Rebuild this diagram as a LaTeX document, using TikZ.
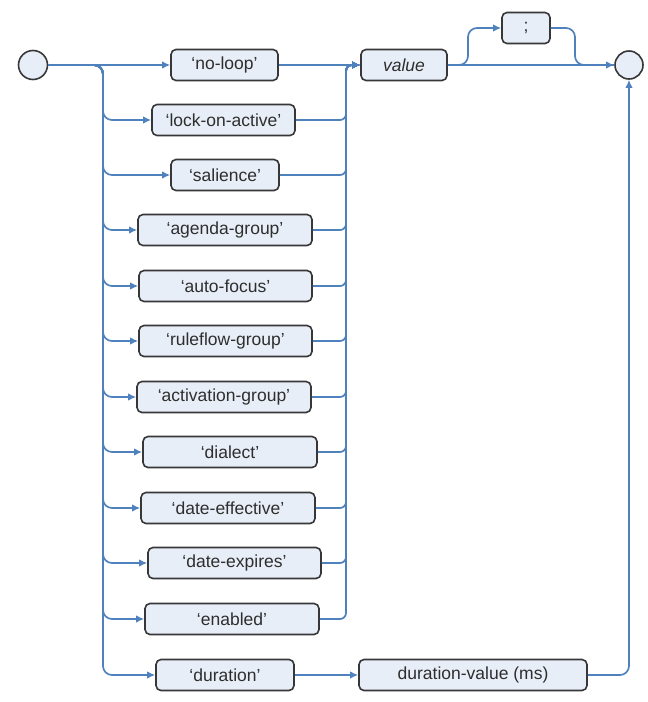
\documentclass[tikz,border=0pt]{standalone}
\usepackage{fontspec}
\setmainfont{Liberation Sans}
\usetikzlibrary{arrows.meta}
\definecolor{railc}{RGB}{79,129,189}
\definecolor{boxfill}{RGB}{232,238,247}
\definecolor{boxline}{RGB}{55,55,55}
\tikzset{
 term/.style={draw=boxline, fill=boxfill, line width=1.6pt, rounded corners=5pt, minimum height=31pt, inner sep=0pt, font=\fontsize{17.5}{20}\selectfont, text=black!82},
 ends/.style={circle, draw=boxline, fill=boxfill, line width=1.6pt, minimum size=29pt, inner sep=0pt},
 railline/.style={draw=railc, line width=1.7pt, rounded corners=9pt},
 railarrow/.style={railline, -{Latex[length=8pt,width=7.5pt]}},
}
\begin{document}
\begin{tikzpicture}[x=1pt,y=-1pt]
\useasboundingbox (0,0) rectangle (648,702);
\node[ends] (start) at (33,65) {};
\node[ends, minimum size=28pt] (end) at (629,65) {};

\node[term, minimum width=107pt] (noloop) at (224.5,65) {‘no-loop’};
\node[term, minimum width=143pt] (lock) at (223.5,120) {‘lock-on-active’};
\node[term, minimum width=108pt] (salience) at (225,175) {‘salience’};
\node[term, minimum width=174pt] (agenda) at (225,230) {‘agenda-group’};
\node[term, minimum width=173pt] (autofocus) at (225.5,286) {‘auto-focus’};
\node[term, minimum width=173pt] (ruleflow) at (225.5,341) {‘ruleflow-group’};
\node[term, minimum width=174pt] (activation) at (224,397) {‘activation-group’};
\node[term, minimum width=174pt] (dialect) at (230,452) {‘dialect’};
\node[term, minimum width=174pt] (dateeff) at (228,508) {‘date-effective’};
\node[term, minimum width=173pt] (dateexp) at (234.5,563) {‘date-expires’};
\node[term, minimum width=174pt] (enabled) at (232,619) {‘enabled’};
\node[term, minimum width=138pt] (duration) at (225,675) {‘duration’};
\node[term, minimum width=228pt] (dv) at (473,675) {duration-value (ms)};
\node[term, minimum width=86pt, font=\fontsize{17.5}{20}\selectfont\itshape] (value) at (404,65) {value};
\node[term, minimum width=48pt] (semi) at (526,28) {;};

\coordinate (lj) at (103,65);
\coordinate (rj) at (346,65);
\coordinate (a1) at (468,65);
\coordinate (a2) at (468,28);
\coordinate (b1) at (575,28);
\coordinate (b2) at (575,65);

\draw[railarrow] (start.east) -- (noloop.west);
\foreach \r in {lock,salience,agenda,autofocus,ruleflow,activation,dialect,dateeff,dateexp,enabled,duration}
  \draw[railarrow] (start.east) -- (lj) -- (lj |- \r.west) -- (\r.west);
\foreach \r in {lock,salience,agenda,autofocus,ruleflow,activation,dialect,dateeff,dateexp,enabled}
  \draw[railarrow, rounded corners=6pt] (\r.east) -- (rj |- \r.east) -- (rj) -- (value.west);
\draw[railarrow] (noloop.east) -- (value.west);
\draw[railarrow] (value.east) -- (end.west);
\draw[railarrow] (value.east) -- (a1) -- (a2) -- (semi.west);
\draw[railline] (semi.east) -- (b1) -- (b2) -- (end.west);
\draw[railarrow] (duration.east) -- (dv.west);
\draw[railarrow] (dv.east) -- (end |- dv.east) -- (end.south);
\end{tikzpicture}
\end{document}
